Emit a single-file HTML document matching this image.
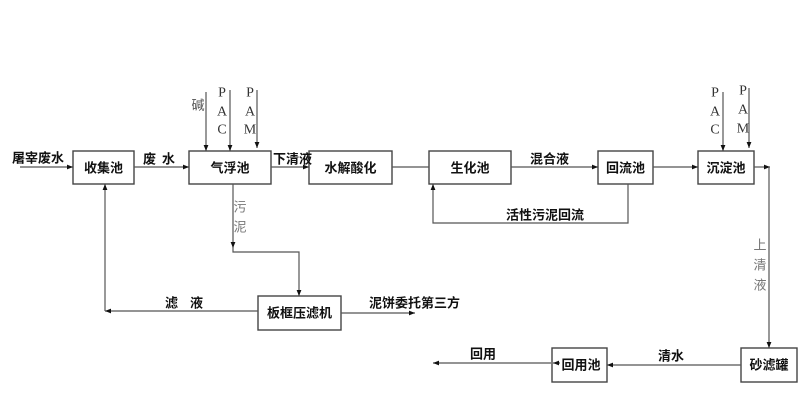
<!DOCTYPE html>
<html><head><meta charset="utf-8">
<style>
html,body{margin:0;padding:0;background:#fff;}
svg{display:block;}
.b{font-family:"Liberation Sans","Noto Sans CJK SC",sans-serif;font-weight:bold;font-size:13px;fill:#111;}
.g{font-family:"Liberation Sans","Noto Sans CJK SC",sans-serif;font-size:13px;fill:#777;}
.s{font-family:"Liberation Serif",serif;font-size:14px;fill:#333;}
</style></head>
<body>
<svg width="800" height="403" viewBox="0 0 800 403" xmlns="http://www.w3.org/2000/svg">
<defs>
<marker id="a" viewBox="0 0 10 10" refX="10" refY="5" markerWidth="7" markerHeight="6" markerUnits="userSpaceOnUse" orient="auto">
<path d="M0,1 L10,5 L0,9 z" fill="#111"/>
</marker>
</defs>
<rect width="800" height="403" fill="#fff"/>
<g fill="none" stroke="#444" stroke-width="1.4">
<rect x="73" y="151" width="61" height="33"/>
<rect x="189" y="151" width="82" height="33"/>
<rect x="309" y="151" width="83" height="33"/>
<rect x="429" y="151" width="82" height="33"/>
<rect x="598" y="151" width="55" height="33"/>
<rect x="698" y="151" width="56" height="33"/>
<rect x="258" y="296" width="83" height="34"/>
<rect x="552" y="348" width="55" height="34"/>
<rect x="741" y="348" width="56" height="34"/>
</g>
<g fill="none" stroke="#555" stroke-width="1.2">
<path d="M20,167 H73" marker-end="url(#a)"/>
<path d="M134,167 H189" marker-end="url(#a)"/>
<path d="M206,92 V151" marker-end="url(#a)"/>
<path d="M230,90 V151" marker-end="url(#a)"/>
<path d="M257,90 V148" marker-end="url(#a)"/>
<path d="M271,167 H309" marker-end="url(#a)"/>
<path d="M392,167 H429"/>
<path d="M511,167 H598" marker-end="url(#a)"/>
<path d="M653,167 H698" marker-end="url(#a)"/>
<path d="M723,92 V151" marker-end="url(#a)"/>
<path d="M749,88 V148" marker-end="url(#a)"/>
<path d="M754,167 H770" marker-end="url(#a)"/>
<path d="M769,167 V348" marker-end="url(#a)"/>
<path d="M628,184 V223 H433 V184" marker-end="url(#a)"/>
<path d="M233,184 V248" marker-end="url(#a)"/>
<path d="M233,248 V252 H299 V296" marker-end="url(#a)"/>
<path d="M258,311 H105" marker-end="url(#a)"/>
<path d="M105,311 V184" marker-end="url(#a)"/>
<path d="M341,313 H415" marker-end="url(#a)"/>
<path d="M741,365 H607" marker-end="url(#a)"/>
<path d="M551,363 H433" marker-end="url(#a)"/>
<path d="M560,363 H553" marker-end="url(#a)"/>
</g>
<g class="b" text-anchor="middle" dominant-baseline="central">
<text x="103.5" y="168">收集池</text>
<text x="230" y="168">气浮池</text>
<text x="350.5" y="168">水解酸化</text>
<text x="470" y="168">生化池</text>
<text x="625.5" y="168">回流池</text>
<text x="726" y="168">沉淀池</text>
<text x="299.5" y="313">板框压滤机</text>
<text x="581" y="365">回用池</text>
<text x="769" y="365">砂滤罐</text>
</g>
<g class="b" dominant-baseline="central">
<text x="12" y="158">屠宰废水</text>
<text x="143" y="159">废</text>
<text x="162" y="159">水</text>
<text x="273" y="159">下清液</text>
<text x="530" y="159">混合液</text>
<text x="506" y="215">活性污泥回流</text>
<text x="165" y="303">滤</text>
<text x="190" y="303">液</text>
<text x="369" y="303">泥饼委托第三方</text>
<text x="658" y="356">清水</text>
<text x="470" y="354">回用</text>
</g>
<g class="g" text-anchor="middle" dominant-baseline="central">
<text x="198" y="105" fill="#555">碱</text>
<text x="240" y="207">污</text>
<text x="240" y="227">泥</text>
<text x="760" y="245">上</text>
<text x="760" y="265">清</text>
<text x="760" y="285">液</text>
</g>
<g class="s" text-anchor="middle" dominant-baseline="central">
<text x="222" y="93">P</text>
<text x="222" y="112">A</text>
<text x="222" y="130">C</text>
<text x="250" y="93">P</text>
<text x="250" y="112">A</text>
<text x="250" y="130">M</text>
<text x="715" y="93">P</text>
<text x="715" y="112">A</text>
<text x="715" y="130">C</text>
<text x="743" y="91">P</text>
<text x="743" y="110">A</text>
<text x="743" y="129">M</text>
</g>
</svg>
</body></html>
